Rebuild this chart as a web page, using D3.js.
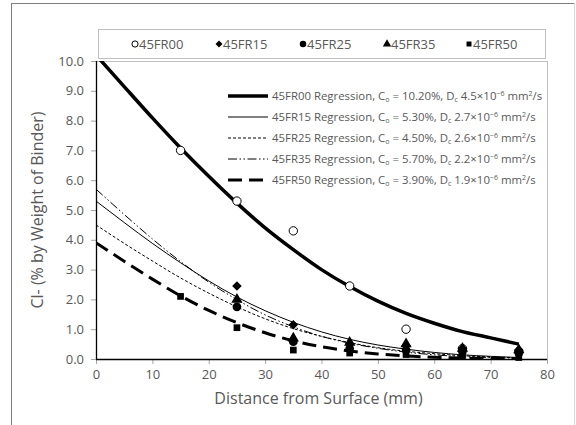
<!DOCTYPE html>
<html><head><meta charset="utf-8">
<script src="https://cdn.jsdelivr.net/npm/d3@7"></script>
<style>body{margin:0;background:#fff}svg{display:block;font-family:"Open Sans","Noto Sans",sans-serif}</style>
</head><body><svg id="c" width="576" height="425"></svg>
<script>
// ---- data ----
const seriesNames = ["45FR00","45FR15","45FR25","45FR35","45FR50"];
const depthPoints = [15,25,35,45,55,65,75];
const fr00 = [7.0,5.3,4.3,2.45,1.0,0.35,0.25];
const fr15 = [null,2.45,1.15,0.5,0.45,0.35,0.3];
const fr25 = [null,1.75,0.58,0.35,0.3,0.25,0.2];
const fr35 = [null,2.0,0.7,0.55,0.5,0.35,0.3];
const fr50 = [2.1,1.05,0.3,0.2,0.15,0.1,0.05];

const curveX = [0,5,10,15,20,25,30,35,40,45,50,55,60,65,70,75];
const reg00 = [10.2,9.14,8.09,7.08,6.13,5.23,4.40,3.67,3.00,2.43,1.94,1.53,1.20,0.92,0.71,0.50];
const reg15 = [5.30,4.58,3.88,3.23,2.62,2.08,1.62,1.23,0.91,0.66,0.47,0.33,0.22,0.14,0.09,0.05];
const reg25 = [4.50,3.88,3.29,2.72,2.21,1.75,1.35,1.02,0.76,0.55,0.38,0.26,0.18,0.11,0.07,0.04];
const reg35 = [5.70,4.85,4.03,3.27,2.58,1.99,1.48,1.08,0.76,0.53,0.36,0.23,0.14,0.08,0.05,0.03];
const reg50 = [3.90,3.28,2.68,2.12,1.63,1.22,0.88,0.61,0.41,0.27,0.17,0.10,0.06,0.03,0.02,0.01];

const regC0 = ["10.20%","5.30%","4.50%","5.70%","3.90%"];
const regD = ["4.5","2.7","2.6","2.2","1.9"];
const xTicks = [0,10,20,30,40,50,60,70,80];
const yTicks = [0,1,2,3,4,5,6,7,8,9,10];
const xTitle = "Distance from Surface (mm)";
const yTitle = "Cl- (% by Weight of Binder)";

// ---- drawing ----
const svg = d3.select("#c");
const L=96, R=547, T=61, B=359;
const x = d3.scaleLinear().domain([0,80]).range([L,R]);
const y = d3.scaleLinear().domain([0,10]).range([B,T]);
const grayTxt = "#595959";

// outer frame
svg.append("line").attr("x1",11.5).attr("x2",11.5).attr("y1",3).attr("y2",425).attr("stroke","#7f7f7f");
svg.append("line").attr("x1",11).attr("x2",575).attr("y1",3.5).attr("y2",3.5).attr("stroke","#7f7f7f");
svg.append("line").attr("x1",574.5).attr("x2",574.5).attr("y1",3).attr("y2",425).attr("stroke","#d9d9d9");

// plot area border
svg.append("line").attr("x1",L).attr("x2",R+0.5).attr("y1",T+0.5).attr("y2",T+0.5).attr("stroke","#bfbfbf");
svg.append("line").attr("x1",R+0.5).attr("x2",R+0.5).attr("y1",T).attr("y2",B).attr("stroke","#bfbfbf");

// axes
const gx = svg.append("g").attr("transform",`translate(0,${B})`)
  .call(d3.axisBottom(x).tickValues(xTicks).tickSize(5).tickPadding(6).tickFormat(d3.format("d")));
const gy = svg.append("g").attr("transform",`translate(${L},0)`)
  .call(d3.axisLeft(y).tickValues(yTicks).tickSize(5).tickPadding(7).tickFormat(d3.format(".1f")));
[gx,gy].forEach(g=>{
  g.select(".domain").remove();
  g.selectAll(".tick line").attr("stroke","#a6a6a6");
  g.selectAll(".tick text").attr("fill",grayTxt).attr("font-size",13).attr("font-family","\"Open Sans\",sans-serif");
});
svg.append("line").attr("x1",L).attr("x2",R).attr("y1",B+0.5).attr("y2",B+0.5).attr("stroke","#000").attr("stroke-width",1.3);
svg.append("line").attr("x1",L+0.5).attr("x2",L+0.5).attr("y1",T).attr("y2",B).attr("stroke","#000").attr("stroke-width",1.3);

svg.append("text").attr("x",(L+R)/2-3).attr("y",404).attr("text-anchor","middle")
  .attr("fill",grayTxt).attr("font-size",16).text(xTitle);
svg.append("text").attr("transform",`translate(43,${(T+B)/2}) rotate(-90)`).attr("text-anchor","middle")
  .attr("fill",grayTxt).attr("font-size",16).text(yTitle);

// clip
svg.append("clipPath").attr("id","clip").append("rect").attr("x",L).attr("y",T).attr("width",R-L).attr("height",B-T);

// regression curves
const regs = [reg00,reg15,reg25,reg35,reg50];
const styles = [
  {w:3.5,dash:null},
  {w:1,dash:null},
  {w:1,dash:"3,2"},
  {w:1,dash:"9,2.5,1.5,2.5,1.5,2.5"},
  {w:3,dash:"14,7"}
];
const line = d3.line().x(d=>x(d[0])).y(d=>y(d[1])).curve(d3.curveMonotoneX);
const gc = svg.append("g").attr("clip-path","url(#clip)");
regs.forEach((r,i)=>{
  gc.append("path").datum(curveX.map((v,j)=>[v,r[j]])).attr("d",line)
    .attr("fill","none").attr("stroke","#000").attr("stroke-width",styles[i].w)
    .attr("stroke-dasharray",styles[i].dash);
});

// markers
const pts = [fr00,fr15,fr25,fr35,fr50];
const symTypes = [d3.symbolCircle,d3.symbolSquare,d3.symbolCircle,d3.symbolTriangle,d3.symbolSquare];
function drawSym(g,i,cx,cy,k){
  const sizes = [55,45,60,55,45];
  const p = g.append("path").attr("d",d3.symbol().type(symTypes[i]).size(sizes[i]*k)())
    .attr("transform",`translate(${cx},${cy})` + (i===1?" rotate(45)":""));
  if(i===0) p.attr("fill","#fff").attr("stroke","#000").attr("stroke-width",1);
  else p.attr("fill","#000");
}
const gm = svg.append("g");
pts.forEach((arr,i)=>{
  arr.forEach((v,j)=>{ if(v!==null) drawSym(gm,i,x(depthPoints[j]),y(v),1); });
});

// top legend
svg.append("rect").attr("x",98.5).attr("y",29.5).attr("width",447).attr("height",29)
  .attr("fill","#fff").attr("stroke","#bfbfbf");
const legX = [135,219,303,387,469];
seriesNames.forEach((n,i)=>{
  drawSym(svg,i,legX[i],44,0.55);
  svg.append("text").attr("x",legX[i]+4).attr("y",48.5).attr("fill",grayTxt).attr("font-size",13).text(n);
});

// regression legend
const rg = svg.append("g");
seriesNames.forEach((n,i)=>{
  const yy = 96 + i*21;
  rg.append("line").attr("x1",228).attr("x2",268).attr("y1",yy).attr("y2",yy)
    .attr("stroke","#000").attr("stroke-width",styles[i].w).attr("stroke-dasharray",styles[i].dash);
  const t = rg.append("text").attr("x",272).attr("y",yy+4).attr("fill",grayTxt).attr("font-size",11.4);
  t.append("tspan").text(`${n} Regression, C`);
  t.append("tspan").attr("font-size",7).attr("dy",2).text("o");
  t.append("tspan").attr("dy",-2).text(` = ${regC0[i]}, D`);
  t.append("tspan").attr("font-size",7).attr("dy",2).text("c");
  t.append("tspan").attr("dy",-2).text(` ${regD[i]}×10`);
  t.append("tspan").attr("font-size",7).attr("dy",-4).text("−6");
  t.append("tspan").attr("dy",4).text(" mm");
  t.append("tspan").attr("font-size",7).attr("dy",-4).text("2");
  t.append("tspan").attr("dy",4).text("/s");
});
</script></body></html>
